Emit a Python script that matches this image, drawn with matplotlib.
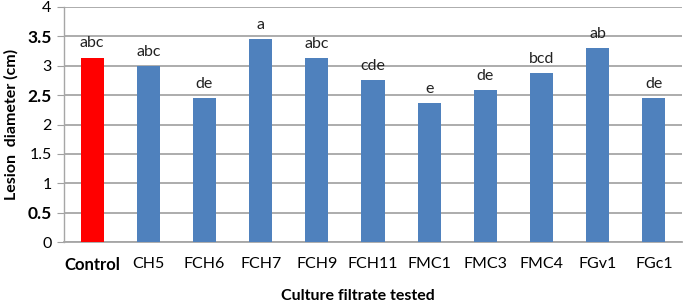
import numpy as np
import matplotlib
matplotlib.use("Agg")
import matplotlib.pyplot as plt

plt.rcParams['font.family'] = ['Lato', 'DejaVu Sans']

# data
isolates = ['Control', 'CH5', 'FCH6', 'FCH7', 'FCH9', 'FCH11',
            'FMC1', 'FMC3', 'FMC4', 'FGv1', 'FGc1']
diameter = [3.14, 3.00, 2.45, 3.45, 3.13, 2.75, 2.36, 2.58, 2.88, 3.30, 2.45]
letters = ['abc', 'abc', 'de', 'a', 'abc', 'cde', 'e', 'de', 'bcd', 'ab', 'de']
yticks = [0, 0.5, 1, 1.5, 2, 2.5, 3, 3.5, 4]
ytick_labels = ['0', '0.5', '1', '1.5', '2', '2.5', '3', '3.5', '4']
bold_yticks = ['0.5', '2.5', '3.5']

fig = plt.figure(figsize=(6.85, 3.04), dpi=100)
ax = fig.add_axes([64 / 685, 1 - 242 / 304, 618 / 685, 235 / 304])

x = np.arange(len(isolates))
cols = ['#ff0000'] + ['#4f81bd'] * (len(isolates) - 1)
ax.bar(x, diameter, width=0.41, color=cols, zorder=3)

for xi, v, t in zip(x, diameter, letters):
    ax.text(xi, v + 0.12, t, ha='center', va='bottom', fontsize=11.5, color='#222222')

ax.set_xlim(-0.5, len(isolates) - 0.5)
ax.set_ylim(0, 4)
ax.set_yticks(yticks)
ax.set_yticklabels(ytick_labels, fontsize=11.5)
for lab in ax.get_yticklabels():
    if lab.get_text() in bold_yticks:
        lab.set_fontweight('bold')
        lab.set_fontsize(12.5)

ax.set_xticks(x)
ax.set_xticklabels(isolates, fontsize=11.5)
ax.get_xticklabels()[0].set_fontweight('bold')
ax.get_xticklabels()[0].set_fontsize(12)
ax.tick_params(axis='x', length=0, pad=11)
ax.tick_params(axis='y', length=5, color='#a0a0a0', pad=4)

ax.yaxis.grid(True, color='#a6a6a6', linewidth=1.3, zorder=0)
for s in ['top', 'right']:
    ax.spines[s].set_visible(False)
ax.spines['left'].set_color('#a6a6a6')
ax.spines['bottom'].set_color('#a6a6a6')
ax.spines['left'].set_linewidth(1.0)
ax.spines['bottom'].set_linewidth(1.3)

ax.set_ylabel('Lesion  diameter (cm)', fontsize=11.5, fontweight='bold', labelpad=6)
fig.text(358 / 685, 1 - 296 / 304, 'Culture filtrate tested', ha='center',
         va='center', fontsize=11.5, fontweight='bold')

fig.savefig('out.png', dpi=100)
